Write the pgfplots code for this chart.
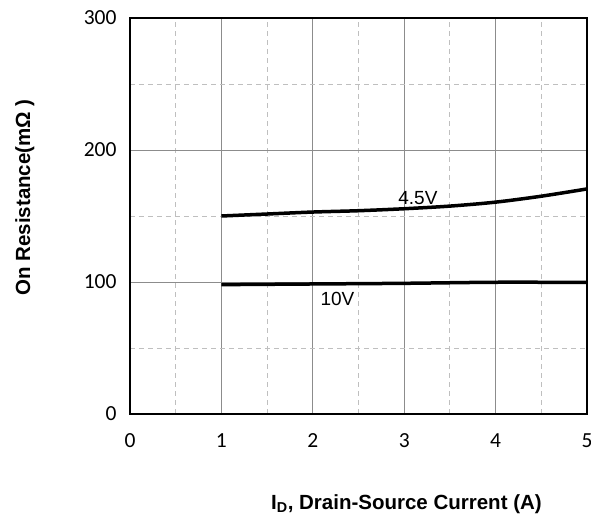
\documentclass[border=0pt]{standalone}
\usepackage{fontspec}
\setmainfont{Carlito}
\newfontfamily\arial{Liberation Sans}
\usepackage{pgfplots}
\pgfplotsset{compat=1.18}

\begin{document}
\begin{tikzpicture}
\begin{axis}[
    name=ax,
    scale only axis,
    width=457pt, height=396pt,
    xmin=0, xmax=5, ymin=0, ymax=300,
    xtick={0,1,2,3,4,5},
    ytick={0,100,200,300},
    minor xtick={0.5,1.5,2.5,3.5,4.5},
    minor ytick={50,150,250},
    grid=both,
    major grid style={draw=black!45, line width=0.8pt},
    minor grid style={draw=black!25, line width=0.8pt, dash pattern=on 5pt off 4pt},
    axis line style={black, line width=1.4pt},
    major tick length=0pt, minor tick length=0pt,
    /pgf/number format/assume math mode=true,
    ticklabel style={font=\fontsize{21.5}{21.5}\selectfont},
    xticklabel style={yshift=-16pt},
    yticklabel style={xshift=-10pt},
    xlabel={\arial\bfseries I\textsubscript{D}, Drain-Source Current (A)},
    xlabel style={font=\fontsize{20.5}{20.5}\selectfont, at={(axis description cs:0.605,-0.227)}, anchor=center},
    ylabel={\arial\bfseries On Resistance(mΩ )},
    ylabel style={font=\fontsize{20.5}{20.5}\selectfont, at={(axis description cs:-0.230,0.547)}, anchor=center},
    clip=false,
]
\addplot[black, line width=3.5pt, smooth] coordinates {
    (1,150) (1.5,151.5) (2,153) (2.5,154) (3,155.5) (3.5,157.5) (4,160.5) (4.5,165) (5,170.5)
};
\addplot[black, line width=3.5pt, smooth] coordinates {
    (1,98) (2,98.5) (3,99) (4,99.8) (5,99.7)
};
\node[font=\arial\fontsize{19}{19}\selectfont] at (axis cs:3.15,163.6) {4.5V};
\node[font=\arial\fontsize{19}{19}\selectfont] at (axis cs:2.27,87.1) {10V};
\end{axis}
\pgfresetboundingbox
\path[use as bounding box] ([xshift=-130pt,yshift=-104pt]ax.south west) rectangle ([xshift=4pt,yshift=18pt]ax.north east);
\end{tikzpicture}
\end{document}
